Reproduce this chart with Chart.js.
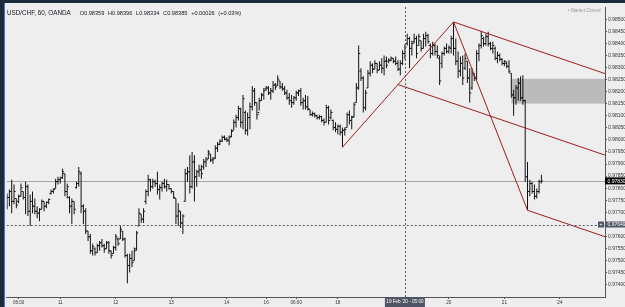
<!DOCTYPE html>
<html><head><meta charset="utf-8">
<script src="https://cdn.jsdelivr.net/npm/chart.js@4/dist/chart.umd.min.js"></script>
<style>
html,body{margin:0;padding:0;width:625px;height:307px;overflow:hidden;background:#1c2a3c;}
#wrap{position:absolute;left:5px;top:3px;width:620px;height:304px;background:#eeeeee;overflow:hidden;}
#edge{position:absolute;left:4px;top:3px;width:1px;height:304px;background:#3a7bd5;}
canvas{position:absolute;left:0;top:0;}
#hdr{position:absolute;left:2px;top:3px;font-family:"Liberation Sans",Arial,sans-serif;color:#131722;white-space:nowrap;line-height:8px;}
#hdr .sym{font-size:6.3px;}
#hdr .dot{font-size:6px;color:#999;margin:0 3px 0 3px;}
#hdr .ohlc{font-size:5.6px;word-spacing:2.2px;margin-left:1px;}
#mc{position:absolute;left:563px;top:5px;font-family:"Liberation Sans",Arial,sans-serif;font-size:4.6px;color:#9a9a9a;white-space:nowrap;}
</style></head>
<body>
<div id="edge"></div>
<div id="wrap">
<canvas id="c" width="620" height="304"></canvas>
<div id="hdr"><span class="sym" id="sym"></span><span class="dot">·</span><span class="ohlc" id="ohlc"></span></div>
<div id="mc">• Market Closed</div>
</div>
<script>
// ---- data ----
const symbolText = "USD/CHF, 60, OANDA";
const firstBar = 1; // bar index of first value (index 0 = 10 Feb 00:00, hourly)
const highs = [0.97778,0.97794,0.97835,0.97815,0.97757,0.97774,0.97819,0.97786,0.97827,0.97815,
0.97774,0.97786,0.97757,0.97725,0.97716,0.97753,0.97745,0.97745,0.97757,0.97794,
0.97798,0.97839,0.97847,0.97847,0.97880,0.97860,0.97819,0.97766,0.97757,0.97745,
0.97827,0.97888,0.97868,0.97733,0.97716,0.97622,0.97610,0.97569,0.97553,0.97569,
0.97581,0.97589,0.97569,0.97581,0.97581,0.97540,0.97561,0.97610,0.97594,0.97643,
0.97622,0.97594,0.97528,0.97528,0.97540,0.97553,0.97622,0.97716,0.97692,0.97716,
0.97794,0.97856,0.97839,0.97839,0.97835,0.97868,0.97815,0.97827,0.97839,0.97835,
0.97815,0.97798,0.97786,0.97757,0.97737,0.97704,0.97692,0.97880,0.97888,0.97937,
0.97950,0.97937,0.97876,0.97897,0.97897,0.97921,0.97929,0.97958,0.97942,0.97929,
0.97978,0.97991,0.98003,0.98019,0.98019,0.98011,0.98019,0.98044,0.98085,0.98105,
0.98142,0.98134,0.98187,0.98122,0.98114,0.98155,0.98224,0.98216,0.98155,0.98175,
0.98195,0.98216,0.98224,0.98224,0.98216,0.98245,0.98236,0.98269,0.98245,0.98236,
0.98224,0.98208,0.98195,0.98187,0.98183,0.98204,0.98208,0.98216,0.98175,0.98187,
0.98183,0.98126,0.98118,0.98114,0.98105,0.98105,0.98101,0.98089,0.98146,0.98142,
0.98126,0.98085,0.98073,0.98064,0.98064,0.98052,0.98052,0.98114,0.98122,0.98101,
0.98155,0.98236,0.98392,0.98298,0.98265,0.98208,0.98290,0.98327,0.98318,0.98331,
0.98318,0.98327,0.98339,0.98351,0.98347,0.98339,0.98347,0.98339,0.98347,0.98331,
0.98331,0.98372,0.98396,0.98441,0.98429,0.98412,0.98441,0.98433,0.98441,0.98412,
0.98441,0.98449,0.98441,0.98400,0.98408,0.98400,0.98392,0.98351,0.98367,0.98388,
0.98400,0.98392,0.98433,0.98490,0.98421,0.98367,0.98347,0.98351,0.98359,0.98327,
0.98298,0.98298,0.98277,0.98372,0.98400,0.98453,0.98429,0.98441,0.98449,0.98408,
0.98408,0.98388,0.98367,0.98359,0.98339,0.98331,0.98327,0.98331,0.98277,0.98208,
0.98228,0.98257,0.98265,0.98269,0.98167,0.97909,0.97835,0.97827,0.97815,0.97798,
0.97835,0.97856];
const lows = [0.97712,0.97725,0.97696,0.97733,0.97716,0.97737,0.97766,0.97753,0.97692,0.97684,
0.97643,0.97696,0.97692,0.97675,0.97663,0.97712,0.97704,0.97716,0.97733,0.97774,
0.97778,0.97798,0.97815,0.97819,0.97839,0.97766,0.97757,0.97696,0.97651,0.97692,
0.97798,0.97806,0.97696,0.97651,0.97610,0.97581,0.97528,0.97520,0.97520,0.97532,
0.97540,0.97553,0.97532,0.97548,0.97528,0.97508,0.97528,0.97540,0.97561,0.97589,
0.97581,0.97512,0.97405,0.97450,0.97471,0.97499,0.97540,0.97643,0.97655,0.97655,
0.97733,0.97766,0.97786,0.97798,0.97806,0.97774,0.97753,0.97786,0.97798,0.97786,
0.97794,0.97778,0.97757,0.97651,0.97643,0.97634,0.97610,0.97745,0.97827,0.97778,
0.97798,0.97745,0.97806,0.97847,0.97839,0.97876,0.97888,0.97921,0.97909,0.97901,
0.97921,0.97950,0.97978,0.97991,0.97999,0.97991,0.97978,0.98011,0.98040,0.98052,
0.98081,0.98052,0.98044,0.98023,0.98019,0.98044,0.98122,0.98142,0.98085,0.98122,
0.98163,0.98167,0.98204,0.98187,0.98167,0.98195,0.98208,0.98224,0.98212,0.98204,
0.98187,0.98167,0.98146,0.98134,0.98146,0.98163,0.98183,0.98142,0.98126,0.98126,
0.98122,0.98101,0.98097,0.98093,0.98085,0.98085,0.98073,0.98060,0.98073,0.98064,
0.98085,0.98040,0.98032,0.98023,0.98019,0.97970,0.98019,0.98052,0.98064,0.98044,
0.98093,0.98155,0.98208,0.98245,0.98114,0.98122,0.98216,0.98265,0.98277,0.98294,
0.98277,0.98290,0.98277,0.98269,0.98298,0.98318,0.98327,0.98318,0.98310,0.98286,
0.98269,0.98310,0.98334,0.98392,0.98298,0.98351,0.98400,0.98339,0.98392,0.98367,
0.98380,0.98388,0.98400,0.98339,0.98351,0.98351,0.98339,0.98228,0.98298,0.98351,
0.98359,0.98359,0.98359,0.98351,0.98310,0.98257,0.98265,0.98228,0.98290,0.98236,
0.98155,0.98208,0.98245,0.98249,0.98327,0.98380,0.98388,0.98392,0.98388,0.98372,
0.98359,0.98331,0.98318,0.98327,0.98310,0.98306,0.98298,0.98277,0.98175,0.98101,
0.98146,0.98163,0.98163,0.98146,0.97827,0.97708,0.97766,0.97778,0.97753,0.97757,
0.97778,0.97819];
const opens = [0.97725,0.97761,0.97786,0.97745,0.97757,0.97745,0.97766,0.97786,0.97761,0.97806,
0.97704,0.97745,0.97725,0.97704,0.97696,0.97712,0.97745,0.97725,0.97741,0.97778,
0.97786,0.97798,0.97827,0.97835,0.97843,0.97860,0.97786,0.97761,0.97725,0.97745,
0.97802,0.97819,0.97860,0.97725,0.97704,0.97622,0.97598,0.97540,0.97548,0.97532,
0.97561,0.97573,0.97561,0.97548,0.97573,0.97540,0.97528,0.97553,0.97589,0.97589,
0.97622,0.97589,0.97520,0.97479,0.97508,0.97499,0.97548,0.97643,0.97692,0.97671,
0.97745,0.97786,0.97835,0.97806,0.97827,0.97819,0.97794,0.97802,0.97819,0.97806,
0.97815,0.97798,0.97786,0.97757,0.97684,0.97704,0.97655,0.97745,0.97860,0.97868,
0.97806,0.97909,0.97847,0.97868,0.97876,0.97888,0.97909,0.97921,0.97942,0.97917,
0.97925,0.97966,0.97982,0.97995,0.98011,0.98003,0.97999,0.98015,0.98040,0.98073,
0.98093,0.98130,0.98073,0.98114,0.98040,0.98093,0.98138,0.98204,0.98155,0.98114,
0.98163,0.98187,0.98212,0.98216,0.98195,0.98204,0.98228,0.98228,0.98245,0.98220,
0.98212,0.98195,0.98175,0.98163,0.98155,0.98175,0.98195,0.98204,0.98155,0.98163,
0.98138,0.98126,0.98105,0.98109,0.98101,0.98093,0.98097,0.98081,0.98073,0.98134,
0.98093,0.98081,0.98052,0.98044,0.98056,0.98032,0.98040,0.98052,0.98105,0.98081,
0.98097,0.98155,0.98216,0.98286,0.98257,0.98134,0.98216,0.98277,0.98310,0.98294,
0.98318,0.98290,0.98310,0.98298,0.98327,0.98327,0.98331,0.98339,0.98327,0.98318,
0.98294,0.98318,0.98359,0.98400,0.98421,0.98380,0.98408,0.98421,0.98392,0.98412,
0.98380,0.98421,0.98433,0.98392,0.98359,0.98392,0.98367,0.98339,0.98318,0.98359,
0.98380,0.98367,0.98380,0.98421,0.98380,0.98327,0.98286,0.98318,0.98298,0.98327,
0.98257,0.98216,0.98269,0.98257,0.98359,0.98392,0.98421,0.98400,0.98429,0.98400,
0.98380,0.98380,0.98339,0.98351,0.98335,0.98318,0.98318,0.98306,0.98277,0.98187,
0.98175,0.98216,0.98236,0.98175,0.98163,0.97847,0.97786,0.97819,0.97786,0.97766,
0.97786,0.97827];
const closes = [0.97761,0.97786,0.97745,0.97786,0.97729,0.97766,0.97802,0.97761,0.97806,0.97704,
0.97745,0.97725,0.97704,0.97696,0.97712,0.97745,0.97725,0.97741,0.97753,0.97786,
0.97794,0.97827,0.97835,0.97843,0.97868,0.97786,0.97806,0.97725,0.97745,0.97712,
0.97819,0.97868,0.97725,0.97704,0.97622,0.97598,0.97540,0.97557,0.97532,0.97561,
0.97573,0.97561,0.97548,0.97573,0.97540,0.97520,0.97553,0.97598,0.97569,0.97630,
0.97589,0.97520,0.97479,0.97508,0.97491,0.97540,0.97614,0.97696,0.97671,0.97704,
0.97786,0.97835,0.97806,0.97827,0.97819,0.97794,0.97802,0.97819,0.97806,0.97815,
0.97798,0.97786,0.97761,0.97684,0.97704,0.97655,0.97684,0.97860,0.97868,0.97806,
0.97909,0.97847,0.97868,0.97876,0.97860,0.97909,0.97917,0.97950,0.97917,0.97921,
0.97966,0.97982,0.97995,0.98011,0.98003,0.97999,0.98011,0.98036,0.98073,0.98093,
0.98130,0.98073,0.98171,0.98040,0.98093,0.98138,0.98204,0.98155,0.98105,0.98163,
0.98187,0.98204,0.98216,0.98195,0.98204,0.98228,0.98220,0.98253,0.98220,0.98212,
0.98195,0.98175,0.98163,0.98155,0.98175,0.98195,0.98204,0.98155,0.98163,0.98138,
0.98130,0.98105,0.98109,0.98101,0.98093,0.98097,0.98081,0.98073,0.98134,0.98081,
0.98114,0.98052,0.98044,0.98056,0.98032,0.98040,0.98044,0.98105,0.98081,0.98093,
0.98146,0.98216,0.98359,0.98257,0.98134,0.98195,0.98277,0.98310,0.98294,0.98318,
0.98290,0.98310,0.98298,0.98327,0.98310,0.98331,0.98339,0.98327,0.98318,0.98294,
0.98318,0.98359,0.98385,0.98421,0.98380,0.98400,0.98421,0.98359,0.98429,0.98380,
0.98421,0.98433,0.98408,0.98359,0.98392,0.98367,0.98351,0.98245,0.98359,0.98380,
0.98367,0.98384,0.98421,0.98380,0.98327,0.98286,0.98318,0.98257,0.98339,0.98257,
0.98195,0.98277,0.98257,0.98359,0.98392,0.98433,0.98400,0.98429,0.98400,0.98380,
0.98392,0.98339,0.98351,0.98335,0.98318,0.98327,0.98306,0.98286,0.98187,0.98175,
0.98216,0.98236,0.98175,0.98163,0.97847,0.97786,0.97819,0.97786,0.97766,0.97786,
0.97827,0.97830];
const xTickPos  = [6, 24, 48, 72, 96, 113, 126, 144, 192, 216, 240];
const xTickText = ["06:00","11","12","13","14","16","06:00","18","20","21","24"];
const yTickVals = [0.97400,0.97450,0.97500,0.97550,0.97600,0.97650,0.97700,0.97750,0.97800,0.97850,0.97900,
0.97950,0.98000,0.98050,0.98100,0.98150,0.98200,0.98250,0.98300,0.98350,0.98400,0.98450,0.98500];
// Schiff pitchfork anchors (bar index, price)
const forkX = [146, 194, 226];
const forkY = [0.97970, 0.98490, 0.97708];
// grey zone
const zoneStart = 219, zoneTop = 0.98254, zoneBottom = 0.98151;
const lastPrice = 0.97830;
const crossIndex = 173, crossPrice = 0.97649, crossLabel = "19 Feb '20 - 05:00";
const viewMin = 0.86, viewMax = 259.5, priceMin = 0.97348, priceMax = 0.98552;

// ---- build datasets ----
const hl = [], op = [], cl = [];
for (let k = 0; k < highs.length; k++) {
  const i = firstBar + k;
  hl.push({x: i, y: [lows[k], highs[k]]});
  op.push({x: i - 0.36, y: opens[k]});
  cl.push({x: i + 0.36, y: closes[k]});
}
const P1 = {x: forkX[0], y: forkY[0]}, P2 = {x: forkX[1], y: forkY[1]}, P3 = {x: forkX[2], y: forkY[2]};
const M12 = {x: (P1.x + P2.x) / 2, y: (P1.y + P2.y) / 2};
const M23 = {x: (P2.x + P3.x) / 2, y: (P2.y + P3.y) / 2};
const dx = M23.x - M12.x, dy = M23.y - M12.y;
const ext = (p) => { const t = (300 - p.x) / dx; return {x: p.x + dx * t, y: p.y + dy * t}; };
const red = '#a11c1c';
const lineDs = (pts) => ({type: 'line', data: pts, borderColor: red, borderWidth: 1, pointRadius: 0, fill: false, tension: 0, order: 0});

// header text
document.getElementById('sym').textContent = symbolText;
const ci = crossIndex - firstBar;
const chg = closes[ci] - closes[ci - 1];
const pct = chg / closes[ci - 1] * 100;
const sgn = chg >= 0 ? '+' : '−';
document.getElementById('ohlc').textContent =
  'O' + opens[ci].toFixed(5) + ' H' + highs[ci].toFixed(5) + ' L' + lows[ci].toFixed(5) + ' C' + closes[ci].toFixed(5) +
  ' ' + sgn + Math.abs(chg).toFixed(5) + ' (' + sgn + Math.abs(pct).toFixed(2) + '%)';

const slate = '#4f5564';
const overlay = {
  id: 'overlay',
  beforeDatasetsDraw(c) {
    const {ctx, chartArea: a, scales: {x, y}} = c;
    ctx.save();
    const zx = x.getPixelForValue(zoneStart), zt = y.getPixelForValue(zoneTop), zb = y.getPixelForValue(zoneBottom);
    ctx.fillStyle = '#bbbbbb';
    ctx.fillRect(zx, zt, a.right - zx, zb - zt);
    const ly = Math.round(y.getPixelForValue(lastPrice)) + 0.5;
    ctx.strokeStyle = '#a5a5a5'; ctx.lineWidth = 1;
    ctx.beginPath(); ctx.moveTo(a.left, ly); ctx.lineTo(a.right, ly); ctx.stroke();
    ctx.restore();
  },
  afterDatasetsDraw(c) {
    const {ctx, chartArea: a, scales: {x, y}} = c;
    ctx.save();
    ctx.strokeStyle = '#555b66'; ctx.lineWidth = 1; ctx.setLineDash([2, 2]);
    const cx = Math.round(x.getPixelForValue(crossIndex)) + 0.5;
    const cy = Math.round(y.getPixelForValue(crossPrice)) + 0.5;
    ctx.beginPath(); ctx.moveTo(cx, a.top); ctx.lineTo(cx, a.bottom); ctx.stroke();
    ctx.beginPath(); ctx.moveTo(a.left, cy); ctx.lineTo(a.right, cy); ctx.stroke();
    ctx.restore();
  },
  afterDraw(c) {
    const {ctx, chartArea: a, scales: {x, y}} = c;
    ctx.save();
    ctx.font = '5px "Liberation Sans", Arial, sans-serif';
    ctx.textBaseline = 'middle';
    // last price label
    const ly = y.getPixelForValue(lastPrice);
    ctx.fillStyle = '#000'; ctx.fillRect(a.right, ly - 3.5, 20, 7);
    ctx.fillStyle = '#fff'; ctx.textAlign = 'left'; ctx.fillText(lastPrice.toFixed(5), a.right + 2.5, ly + 0.3);
    // crosshair price label
    const cy = y.getPixelForValue(crossPrice);
    ctx.fillStyle = slate; ctx.fillRect(a.right, cy - 3, 20, 6);
    ctx.fillRect(a.right - 7, cy - 3, 6, 6);
    ctx.fillStyle = '#fff'; ctx.fillText(crossPrice.toFixed(5), a.right + 2.5, cy + 0.3);
    ctx.textAlign = 'center'; ctx.fillText('+', a.right - 4, cy + 0.2);
    // crosshair time label
    const cx = x.getPixelForValue(crossIndex);
    ctx.font = '4.6px "Liberation Sans", Arial, sans-serif';
    ctx.fillStyle = slate; ctx.fillRect(cx - 20, a.bottom, 40, 10);
    ctx.fillStyle = '#fff'; ctx.textAlign = 'center'; ctx.fillText(crossLabel, cx, a.bottom + 5);
    ctx.restore();
  }
};

new Chart(document.getElementById('c'), {
  type: 'bar',
  data: {
    datasets: [
      {type: 'bar', data: hl, backgroundColor: '#111111', borderWidth: 0, barThickness: 1, inflateAmount: 0, order: 3},
      {type: 'scatter', data: op, pointStyle: 'line', pointRadius: 0.75, pointHoverRadius: 0.75, borderColor: '#111111', pointBorderColor: '#111111', pointBorderWidth: 1, order: 2},
      {type: 'scatter', data: cl, pointStyle: 'line', pointRadius: 0.75, pointHoverRadius: 0.75, borderColor: '#111111', pointBorderColor: '#111111', pointBorderWidth: 1, order: 2},
      lineDs([P1, P2]),
      lineDs([P2, P3]),
      lineDs([M12, ext(M12)]),
      lineDs([P2, ext(P2)]),
      lineDs([P3, ext(P3)])
    ]
  },
  options: {
    responsive: false, animation: false, devicePixelRatio: 1,
    layout: {padding: 0},
    events: [],
    plugins: {legend: {display: false}, tooltip: {enabled: false}},
    scales: {
      x: {
        type: 'linear', min: viewMin, max: viewMax, offset: false,
        grid: {display: true, offset: false, drawOnChartArea: false, drawTicks: true, tickLength: 2, color: '#555'},
        border: {display: true, color: '#555', width: 1},
        afterBuildTicks: (s) => { s.ticks = xTickPos.map(v => ({value: v})); },
        afterFit: (s) => { s.height = 10; },
        ticks: {autoSkip: false, maxRotation: 0, padding: 0.5, color: '#333',
          font: {family: 'Liberation Sans', size: 4.6},
          callback: (v, i) => xTickText[i]}
      },
      y: {
        type: 'linear', position: 'right', min: priceMin, max: priceMax,
        grid: {display: true, drawOnChartArea: false, drawTicks: true, tickLength: 2, color: '#555'},
        border: {display: true, color: '#555', width: 1},
        afterBuildTicks: (s) => { s.ticks = yTickVals.map(v => ({value: v})); },
        afterFit: (s) => { s.width = 20; },
        ticks: {padding: 1, color: '#333', font: {family: 'Liberation Sans', size: 5},
          callback: (v) => Number(v).toFixed(5)}
      }
    }
  },
  plugins: [overlay]
});
</script>
</body></html>
